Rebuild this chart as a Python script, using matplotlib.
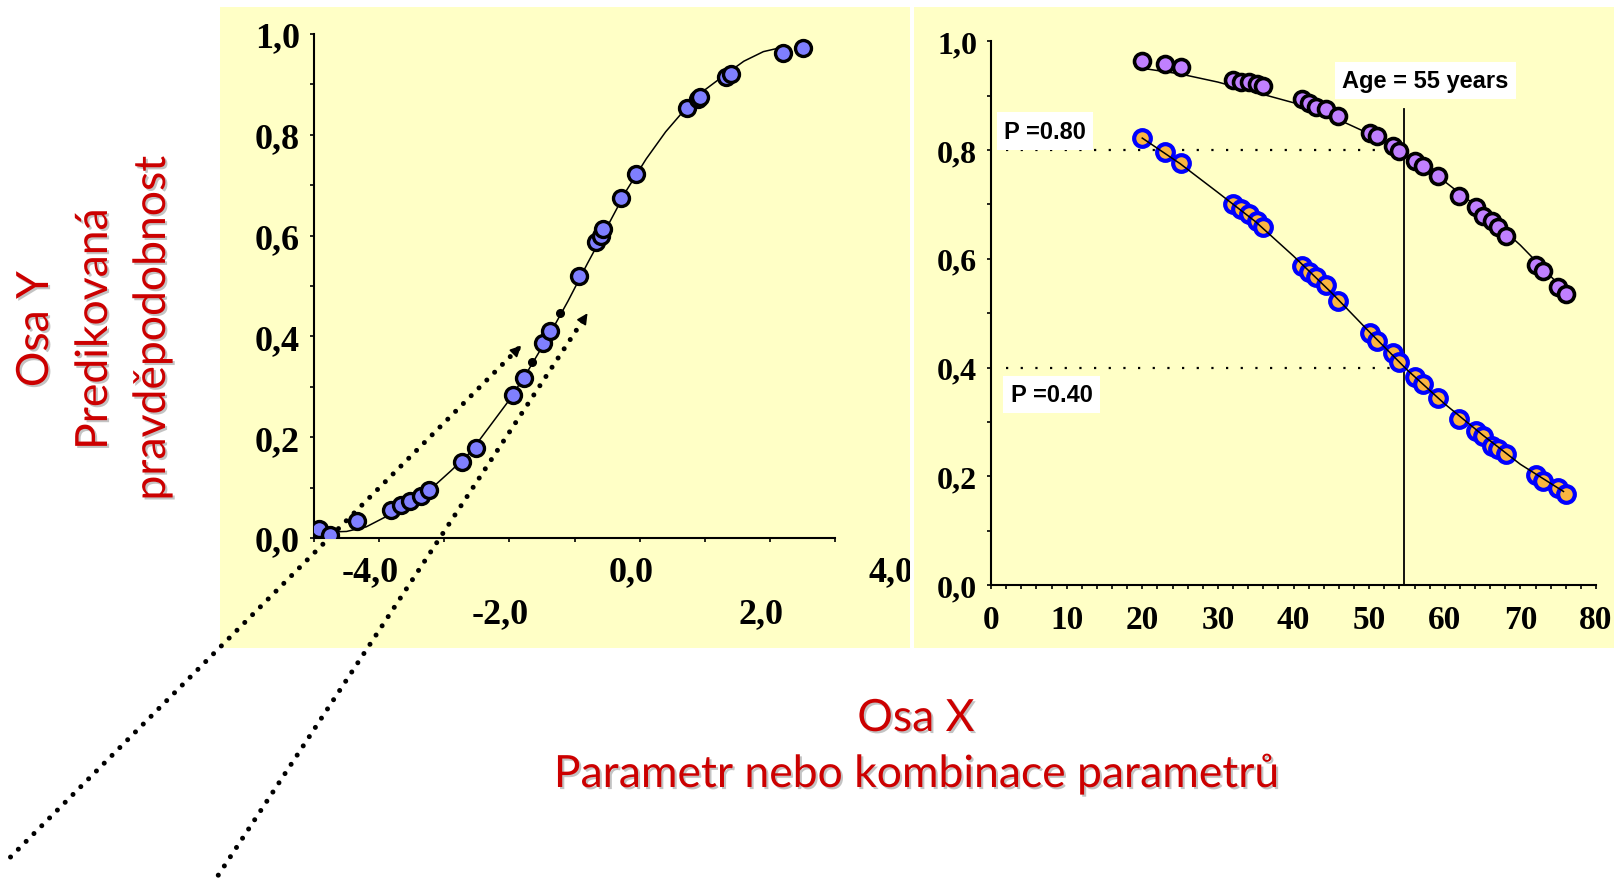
import matplotlib
matplotlib.use('Agg')
import matplotlib.pyplot as plt
import matplotlib.patheffects as pe
from matplotlib.transforms import blended_transform_factory, ScaledTranslation

# ---- left panel: predicted probability vs. parameter ----
score = [-4.93, -4.76, -4.34, -3.81, -3.66, -3.53, -3.36, -3.24, -2.73, -2.52,
         -1.94, -1.78, -1.49, -1.37, -0.93, -0.67, -0.60, -0.57, -0.29, -0.05,
         0.72, 0.89, 0.92, 1.32, 1.41, 2.20, 2.51]
prob = [0.018, 0.005, 0.034, 0.056, 0.065, 0.074, 0.084, 0.095, 0.151, 0.179,
        0.284, 0.317, 0.387, 0.411, 0.520, 0.588, 0.599, 0.613, 0.675, 0.722,
        0.853, 0.871, 0.875, 0.914, 0.920, 0.962, 0.972]
fit_x = [-4.75, -4.5, -4.2, -3.9, -3.5, -3.2, -2.9, -2.6, -2.3, -2.0, -1.7, -1.4,
         -1.1, -0.8, -0.5, -0.2, 0.1, 0.4, 0.7, 1.0, 1.3, 1.6, 1.9, 2.1]
fit_y = [0.012, 0.013, 0.022, 0.042, 0.070, 0.098, 0.133, 0.170, 0.222, 0.274, 0.335, 0.400,
         0.470, 0.545, 0.617, 0.690, 0.752, 0.806, 0.851, 0.889, 0.918, 0.946, 0.965, 0.971]
dot_x = [-1.66, -1.23]
dot_y = [0.350, 0.446]
# dotted arrows (start, tip) in left-panel data units
arrows = [((-9.66, -0.633), (-1.82, 0.3815)),
          ((-6.47, -0.669), (-0.80, 0.446))]
xlab_vals = [-4, -2, 0, 2, 4]

yticks = [0, 0.2, 0.4, 0.6, 0.8, 1.0]
ytick_labels = ['0,0', '0,2', '0,4', '0,6', '0,8', '1,0']
yminor = [0.1, 0.3, 0.5, 0.7, 0.9]

# ---- right panel: probability vs. age ----
age = [20.0, 23.0, 25.1, 32.0, 33.0, 34.1, 35.2, 36.0, 41.1, 42.0, 43.0, 44.3, 45.9,
       50.1, 51.1, 53.1, 54.0, 56.0, 57.1, 59.1, 61.9, 64.1, 65.1, 66.2, 67.1, 68.1,
       72.1, 73.0, 75.0, 76.0]
p_high = [0.964, 0.958, 0.952, 0.928, 0.926, 0.926, 0.921, 0.918, 0.894, 0.887, 0.880,
          0.875, 0.863, 0.831, 0.825, 0.808, 0.798, 0.779, 0.770, 0.752, 0.715, 0.695,
          0.679, 0.670, 0.658, 0.642, 0.589, 0.578, 0.549, 0.535]
p_low = [0.822, 0.797, 0.777, 0.700, 0.692, 0.682, 0.670, 0.659, 0.587, 0.575, 0.566,
         0.552, 0.523, 0.4635, 0.449, 0.426, 0.410, 0.383, 0.370, 0.344, 0.305, 0.283,
         0.2735, 0.256, 0.250, 0.241, 0.203, 0.192, 0.178, 0.167]
fit_age_high = [19.7, 25, 30, 35, 40, 45, 50, 55, 60, 65, 70, 76.1]
fit_high = [0.951, 0.940, 0.925, 0.906, 0.887, 0.862, 0.830, 0.790, 0.742, 0.688, 0.625, 0.538]
fit_age_low = [20, 25, 30, 35, 40, 45, 50, 55, 60, 65, 70, 75.7]
fit_low = [0.822, 0.775, 0.722, 0.668, 0.605, 0.538, 0.466, 0.396, 0.333, 0.276, 0.222, 0.172]
age_cut = 54.6
p_refs = [0.8, 0.4]
xticks2 = list(range(0, 81, 10))
xminor2 = list(range(0, 81, 2))

W, H = 1614, 879
fig = plt.figure(figsize=(W / 100, H / 100), dpi=100)


def px_box(x0, y0, x1, y1):
    # pixel box (top-left origin) -> figure fraction rect
    return [x0 / W, 1 - y1 / H, (x1 - x0) / W, (y1 - y0) / H]


yellow = '#FFFFC6'
serif = 'Liberation Serif'

bg1 = fig.add_axes(px_box(220, 8, 910, 649))
bg2 = fig.add_axes(px_box(914, 8, 1614, 649))
for bg in (bg1, bg2):
    bg.set_facecolor(yellow)
    bg.set_xticks([])
    bg.set_yticks([])
    for s in bg.spines.values():
        s.set_visible(False)

ax1 = fig.add_axes(px_box(314, 35, 835, 539))
ax2 = fig.add_axes(px_box(991, 42.3, 1596, 586))

for ax in (ax1, ax2):
    ax.set_facecolor('none')
    ax.spines['top'].set_visible(False)
    ax.spines['right'].set_visible(False)
    ax.spines['left'].set_linewidth(1.5)
    ax.spines['bottom'].set_linewidth(1.5)
    ax.set_ylim(0, 1)
    ax.set_yticks(yticks, ytick_labels)
    ax.set_yticks(yminor, minor=True)
    ax.tick_params(which='both', direction='out', length=3, width=1.2)
    ax.tick_params(axis='y', pad=7)

# left panel
ax1.set_xlim(-5, 3)
ax1.set_xticks(range(-5, 4), [''] * 9)
for lab in ax1.get_yticklabels():
    lab.set_fontfamily(serif)
    lab.set_fontweight('bold')
    lab.set_fontsize(26)

ax1.plot(fit_x, fit_y, color='black', lw=1.1, zorder=2)
ax1.plot(score, prob, 'o', ms=11.5, mfc='#7F7FFF', mec='black', mew=2.4, zorder=3)
ax1.plot(dot_x, dot_y, 'o', ms=5.5, color='black', zorder=4)

for (x0, y0), (x1, y1) in arrows:
    ax1.plot([x0, x1], [y0, y1], color='black', lw=3.6, ls=(0, (0.01, 2.2)),
             dash_capstyle='round', clip_on=False, zorder=2.5)
    ax1.annotate('', xy=(x1, y1), xytext=(x1 - (x1 - x0) * 0.012, y1 - (y1 - y0) * 0.012),
                 arrowprops=dict(arrowstyle='-|>', color='black', lw=1.2,
                                 mutation_scale=16, shrinkA=0, shrinkB=0),
                 annotation_clip=False)

# staggered x labels, clipped by the yellow panel
lab_trans = blended_transform_factory(ax1.transData, ax1.transAxes)
for i, v in enumerate(xlab_vals):
    dy = -34 if i % 2 == 0 else -76
    t = lab_trans + ScaledTranslation(-9 / 100, dy / 100, fig.dpi_scale_trans)
    bg1.text(v, 0, ('%.1f' % v).replace('.', ','), transform=t, ha='center', va='center',
             fontfamily=serif, fontweight='bold', fontsize=26, clip_on=True)

# right panel
ax2.set_xlim(0, 80)
ax2.set_xticks(xticks2, [str(v) for v in xticks2])
ax2.set_xticks(xminor2, minor=True)
ax2.tick_params(axis='x', pad=11)
for lab in ax2.get_xticklabels():
    lab.set_fontfamily(serif)
    lab.set_fontweight('bold')
    lab.set_fontsize(24)
for lab in ax2.get_yticklabels():
    lab.set_fontfamily(serif)
    lab.set_fontweight('bold')
    lab.set_fontsize(23)

for p in p_refs:
    ax2.plot([2, 54], [p, p], color='black', lw=1.6, ls=(0, (1, 5.6)), zorder=1)
ax2.plot([age_cut, age_cut], [0, 0.876], color='black', lw=1.3, zorder=1.5)

ax2.plot(fit_age_high, fit_high, color='black', lw=1.1, zorder=2)
ax2.plot(age, p_high, 'o', ms=11.5, mfc='#C080FF', mec='black', mew=2.6, zorder=3)
ax2.plot(age, p_low, 'o', ms=12, mfc='#FBB540', mec='#0000FF', mew=3, zorder=3)
ax2.plot(fit_age_low, fit_low, color='black', lw=1.1, zorder=4)

box_kw = dict(boxstyle='square,pad=0.3', facecolor='white', edgecolor='none')
txt_kw = dict(ha='center', va='center', fontfamily='Liberation Sans', fontweight='bold',
              fontsize=17, bbox=box_kw, zorder=5)
ax2.text(7.1, 0.835, 'P =0.80', **txt_kw)
ax2.text(8.0, 0.35, 'P =0.40', **txt_kw)
ax2.text(57.45, 0.9276, 'Age = 55 years', **txt_kw)

# red axis captions with soft shadow
shadow = [pe.SimplePatchShadow(offset=(1.5, -1.5), shadow_rgbFace='#888888', alpha=0.5),
          pe.Normal()]
cap = dict(fontfamily=['Lato', 'DejaVu Sans'], fontsize=32, color='#CC0000',
           path_effects=shadow)
fig.text(48 / W, 1 - 330 / H, 'Osa Y', rotation=90, rotation_mode='anchor',
         ha='center', va='baseline', **cap)
fig.text(107 / W, 1 - 330 / H, 'Predikovaná', rotation=90, rotation_mode='anchor',
         ha='center', va='baseline', **cap)
fig.text(165 / W, 1 - 329 / H, 'pravděpodobnost', rotation=90, rotation_mode='anchor',
         ha='center', va='baseline', **cap)
fig.text(916 / W, 1 - 732 / H, 'Osa X', ha='center', va='baseline', **cap)
fig.text(917 / W, 1 - 788 / H, 'Parametr nebo kombinace parametrů', ha='center',
         va='baseline', **cap)

fig.savefig('out.png', dpi=100)
